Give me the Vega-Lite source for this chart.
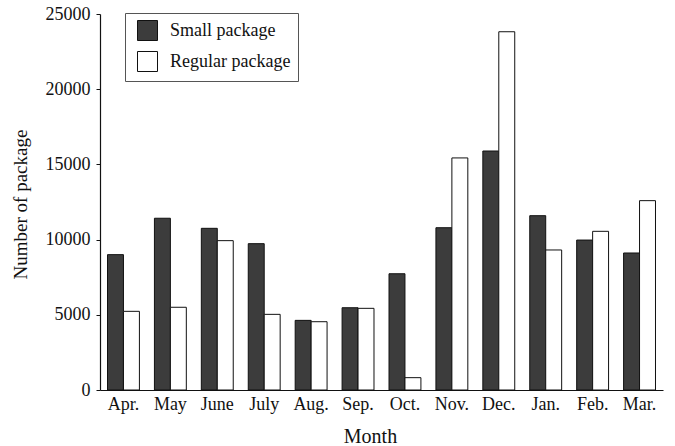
{
  "$schema": "https://vega.github.io/schema/vega-lite/v6.json",
  "autosize": {"type": "none"},
  "padding": {"left": 100, "top": 14, "right": 12, "bottom": 56},
  "width": 563,
  "height": 376,
  "background": "white",
  "config": {
    "view": {"stroke": null},
    "font": "Liberation Serif"
  },
  "data": {
    "values": [
      {"month": "Apr.", "type": "Small package", "count": 9000},
      {"month": "Apr.", "type": "Regular package", "count": 5230},
      {"month": "May", "type": "Small package", "count": 11420},
      {"month": "May", "type": "Regular package", "count": 5500},
      {"month": "June", "type": "Small package", "count": 10750},
      {"month": "June", "type": "Regular package", "count": 9930},
      {"month": "July", "type": "Small package", "count": 9730},
      {"month": "July", "type": "Regular package", "count": 5030},
      {"month": "Aug.", "type": "Small package", "count": 4630},
      {"month": "Aug.", "type": "Regular package", "count": 4540},
      {"month": "Sep.", "type": "Small package", "count": 5470},
      {"month": "Sep.", "type": "Regular package", "count": 5430},
      {"month": "Oct.", "type": "Small package", "count": 7730},
      {"month": "Oct.", "type": "Regular package", "count": 820},
      {"month": "Nov.", "type": "Small package", "count": 10790},
      {"month": "Nov.", "type": "Regular package", "count": 15430},
      {"month": "Dec.", "type": "Small package", "count": 15890},
      {"month": "Dec.", "type": "Regular package", "count": 23820},
      {"month": "Jan.", "type": "Small package", "count": 11590},
      {"month": "Jan.", "type": "Regular package", "count": 9310},
      {"month": "Feb.", "type": "Small package", "count": 9970},
      {"month": "Feb.", "type": "Regular package", "count": 10550},
      {"month": "Mar.", "type": "Small package", "count": 9110},
      {"month": "Mar.", "type": "Regular package", "count": 12590}
    ]
  },
  "mark": {"type": "bar", "stroke": "#111111", "strokeWidth": 1},
  "encoding": {
    "x": {
      "field": "month",
      "type": "nominal",
      "sort": ["Apr.", "May", "June", "July", "Aug.", "Sep.", "Oct.", "Nov.", "Dec.", "Jan.", "Feb.", "Mar."],
      "scale": {"paddingInner": 0.32, "paddingOuter": 0.16},
      "axis": {
        "title": "Month",
        "labelAngle": 0,
        "ticks": false,
        "labelPadding": 5,
        "labelFont": "Liberation Serif",
        "labelFontSize": 18,
        "labelColor": "#111111",
        "domainColor": "#111111",
        "domainWidth": 1.2,
        "titleFont": "Liberation Serif",
        "titleFontSize": 20,
        "titleFontWeight": "normal",
        "titleColor": "#111111",
        "titleX": 270,
        "titleY": 52,
        "titleBaseline": "alphabetic",
        "titleAnchor": "middle"
      }
    },
    "xOffset": {
      "field": "type",
      "type": "nominal",
      "sort": ["Small package", "Regular package"],
      "scale": {"paddingInner": 0, "paddingOuter": 0}
    },
    "y": {
      "field": "count",
      "type": "quantitative",
      "scale": {"domain": [0, 25000], "nice": false},
      "axis": {
        "title": "Number of package",
        "values": [0, 5000, 10000, 15000, 20000, 25000],
        "format": "d",
        "grid": false,
        "tickSize": 4,
        "tickColor": "#111111",
        "labelPadding": 6,
        "labelFont": "Liberation Serif",
        "labelFontSize": 18,
        "labelColor": "#111111",
        "domainColor": "#111111",
        "domainWidth": 1.2,
        "titleFont": "Liberation Serif",
        "titleFontSize": 19,
        "titleFontWeight": "normal",
        "titleColor": "#111111",
        "titleAngle": -90,
        "titleX": -80,
        "titleY": 190,
        "titleBaseline": "middle",
        "titleAlign": "center"
      }
    },
    "color": {
      "field": "type",
      "type": "nominal",
      "sort": ["Small package", "Regular package"],
      "scale": {"domain": ["Small package", "Regular package"], "range": ["#3c3c3c", "#ffffff"]},
      "legend": {
        "title": null,
        "orient": "none",
        "legendX": 25,
        "legendY": -1,
        "direction": "vertical",
        "fillColor": "white",
        "strokeColor": "#555555",
        "padding": 7,
        "symbolOffset": 5,
        "symbolType": "square",
        "symbolSize": 400,
        "symbolStrokeColor": "#111111",
        "symbolStrokeWidth": 1,
        "labelFont": "Liberation Serif",
        "labelFontSize": 18,
        "labelColor": "#111111",
        "labelOffset": 12,
        "labelExpr": "datum.label + '   '",
        "rowPadding": 6,
        "offset": 0
      }
    }
  }
}
